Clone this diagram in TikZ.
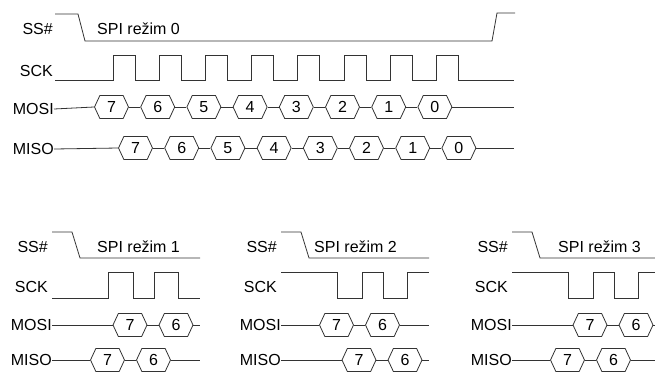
\documentclass[tikz,border=0pt]{standalone}
\usepackage{fontspec}
\setmainfont{Liberation Sans}
\usetikzlibrary{shapes.symbols}

\tikzset{
  wave/.style={draw=black!80, line width=0.8pt},
  lbl/.style={anchor=east, inner sep=0pt, font=\fontsize{16}{18}\selectfont},
  txt/.style={anchor=west, inner sep=0pt, font=\fontsize{16}{18}\selectfont},
  bit/.style={shape=signal, signal to=east and west, signal pointer angle=130,
    draw=black!80, line width=0.8pt, minimum width=34pt, minimum height=23pt,
    inner sep=0pt, font=\fontsize{16}{18}\selectfont},
}

\begin{document}
\begin{tikzpicture}[x=1pt,y=-1pt]
\useasboundingbox (0,0) rectangle (655,376);
\clip (0,0) rectangle (655,376);

% SPI mode 0
\node[lbl] (ss0) at (53,29) {SS\#};
\node[lbl] (sck0) at (53,71) {SCK};
\node[lbl] (mosi0) at (54,109) {MOSI};
\node[lbl] (miso0) at (54,149) {MISO};
\node[txt] (mode0) at (97,29) {SPI režim 0};

\draw[wave] (55,14) -- (78,14) -- (85,41) -- (492,41) -- (497,13) -- (515,13);
\draw[wave] (55,80) \foreach \k in {0,...,7} {
  -- ({113+46.2*\k},80) -- ++(0,-25) -- ++(22,0) -- ++(0,25)} -- (514,80);

% data bits
\foreach \b [count=\i from 0] in {7,...,0} {
  \node[bit] (mo0-\b) at ({111.5+46.2*\i},107) {\b};
  \node[bit] (mi0-\b) at ({135.5+46.2*\i},148) {\b};
}
\coordinate (mo0-end) at (514,107);
\coordinate (mi0-end) at (514,148);
\draw[wave] (mosi0.east) -- (mo0-7.west);
\draw[wave] (miso0.east) -- (mi0-7.west);
\foreach \b/\c in {7/6,6/5,5/4,4/3,3/2,2/1,1/0} {
  \draw[wave] (mo0-\b.east) -- (mo0-\c.west);
  \draw[wave] (mi0-\b.east) -- (mi0-\c.west);
}
\draw[wave] (mo0-0.east) -- (mo0-end);
\draw[wave] (mi0-0.east) -- (mi0-end);

% SPI modes 1, 2, 3
\foreach \m/\dx/\tx/\idle/\act/\mo/\mi in
  {1/0/97/298/272/130/107.5, 2/229/85/272/298/107.5/130, 3/460/98/272/298/130/107.5} {
\begin{scope}[xshift=\dx]
  \node[lbl] (ss\m) at (48,247) {SS\#};
  \node[lbl] (sck\m) at (48,287) {SCK};
  \node[lbl] (mosi\m) at (52,325) {MOSI};
  \node[lbl] (miso\m) at (52,360) {MISO};
  \node[txt] (mode\m) at (\tx,247) {SPI režim \m};

  \draw[wave] (52,232) -- (72,232) -- (80,258) -- (200,258);
  \draw[wave] (52,\idle) -- (108,\idle) -- (108,\act) -- (133,\act) -- (133,\idle)
    -- (154,\idle) -- (154,\act) -- (178,\act) -- (178,\idle) -- (200,\idle);

  \node[bit] (mo\m-7) at (\mo,325) {7};
  \node[bit] (mo\m-6) at ({\mo+46},325) {6};
  \node[bit] (mi\m-7) at (\mi,360) {7};
  \node[bit] (mi\m-6) at ({\mi+46},360) {6};
  \coordinate (mo\m-end) at (200,325);
  \coordinate (mi\m-end) at (200,360);

  \draw[wave] (mosi\m.east) -- (mo\m-7.west);
  \draw[wave] (mo\m-7.east) -- (mo\m-6.west);
  \draw[wave] (mo\m-6.east) -- (mo\m-end);
  \draw[wave] (miso\m.east) -- (mi\m-7.west);
  \draw[wave] (mi\m-7.east) -- (mi\m-6.west);
  \draw[wave] (mi\m-6.east) -- (mi\m-end);
\end{scope}
}
\end{tikzpicture}
\end{document}
